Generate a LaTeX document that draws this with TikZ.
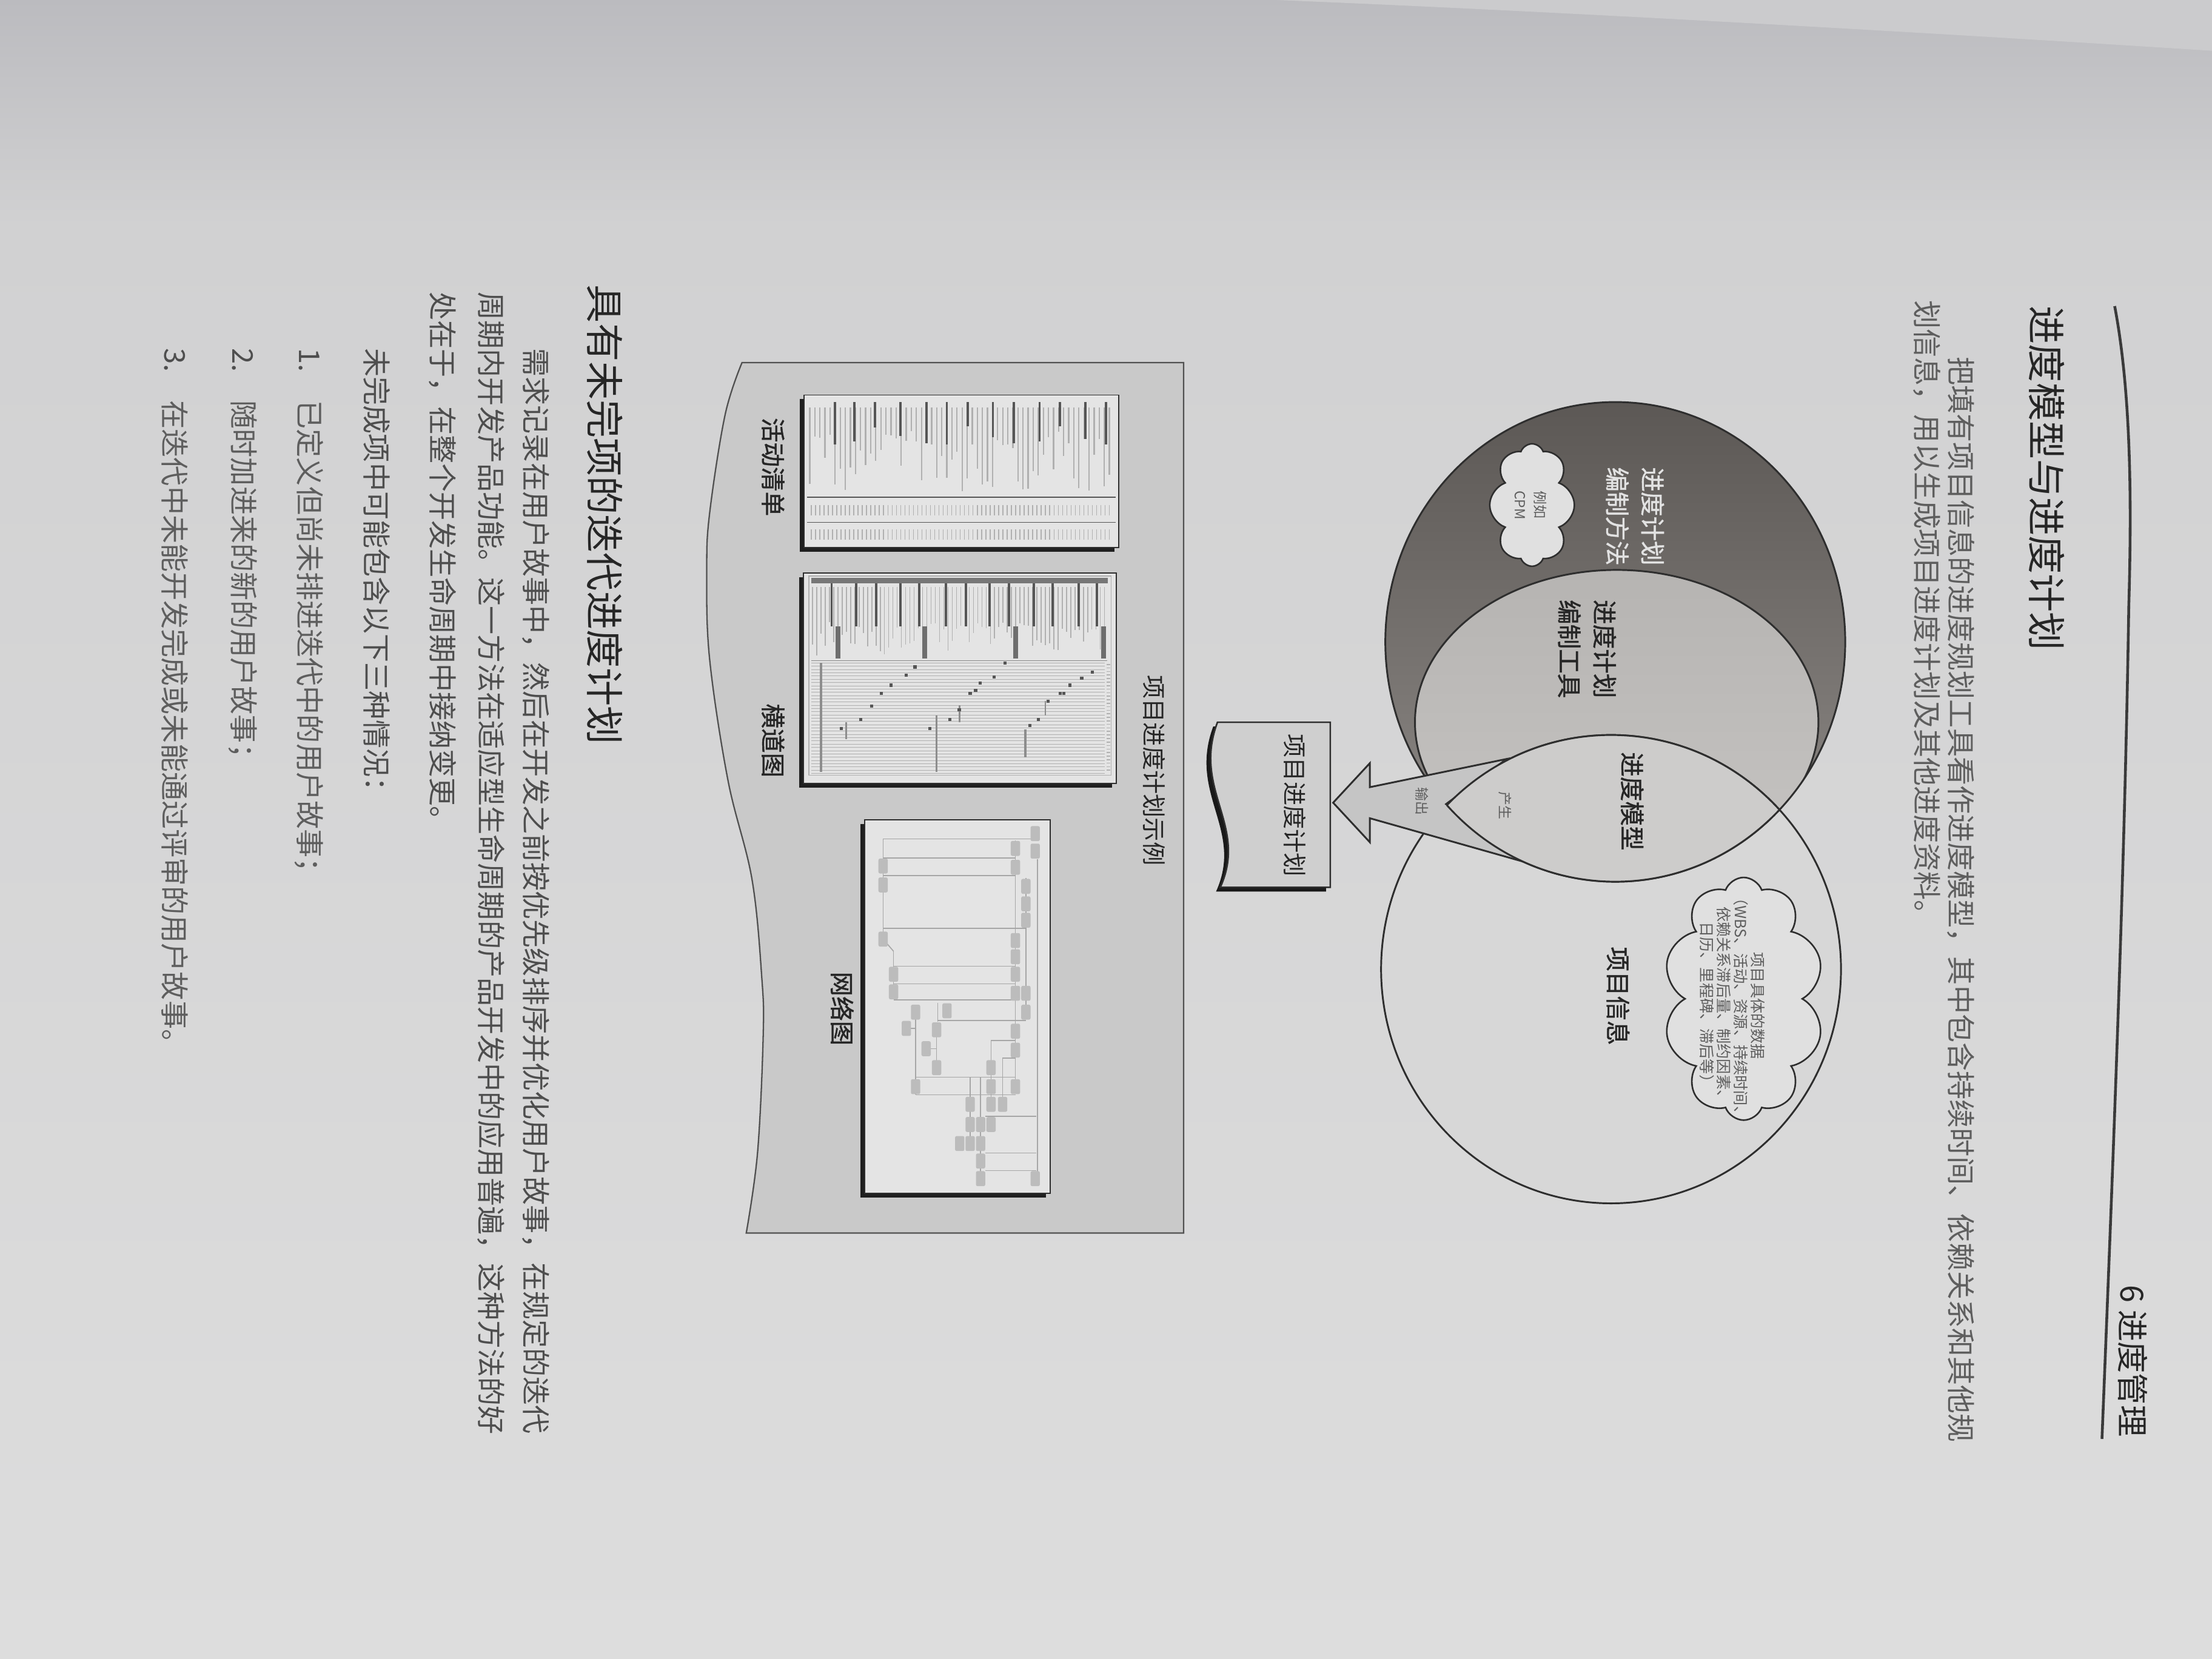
\documentclass[tikz,border=0pt]{standalone}
\usepackage{fontspec}
\setmainfont{Noto Sans CJK SC}
\newfontfamily\labelface[FakeBold=1.1]{Noto Sans CJK SC}
\usetikzlibrary{shapes.symbols}

\definecolor{bgtop}{HTML}{BBBBBF}
\definecolor{bgmid}{HTML}{D1D1D2}
\definecolor{bgbot}{HTML}{DDDDDD}
\definecolor{bglight}{HTML}{CBCBCD}
\definecolor{inkc}{HTML}{262626}
\definecolor{bodyc}{HTML}{4E4E4E}
\definecolor{softc}{HTML}{5E5E5E}
\definecolor{rulec}{HTML}{3A3A3A}
\definecolor{ringtop}{HTML}{5C5855}
\definecolor{ringbot}{HTML}{8E8A87}
\definecolor{tooltop}{HTML}{B6B4B2}
\definecolor{toolbot}{HTML}{C6C4C2}
\definecolor{infoc}{HTML}{D7D7D7}
\definecolor{lensc}{HTML}{CDCCCB}
\definecolor{arrowc}{HTML}{C5C5C5}
\definecolor{docc}{HTML}{CFCFCF}
\definecolor{panelc}{HTML}{C9C9C9}
\definecolor{paneledge}{HTML}{505050}
\definecolor{sheetc}{HTML}{E4E4E4}
\definecolor{linec}{HTML}{2E2E2E}
\definecolor{cloudc}{HTML}{E0E0E0}
\definecolor{ringtext}{HTML}{E2E2E2}
\definecolor{faint}{HTML}{B0B0B0}
\definecolor{heavy}{HTML}{555555}
\definecolor{netnode}{HTML}{BCBCBC}
\definecolor{netline}{HTML}{A6A6A6}

\begin{document}
\begin{tikzpicture}[x=0.025cm, y=-0.025cm,
  vline/.style={rotate=-90, anchor=west, inner sep=0pt, outer sep=0pt},
  vbox/.style={rotate=-90, anchor=center, inner sep=0pt, outer sep=0pt, align=center},
  headfont/.style={font=\fontsize{19.3}{23}\selectfont, text=inkc},
  bodyfont/.style={font=\fontsize{14.4}{17}\selectfont, text=bodyc},
  labelfont/.style={font=\labelface\fontsize{12.4}{17.8}\selectfont, text=inkc},
  tinyfont/.style={font=\fontsize{7}{10}\selectfont, text=softc},
  outline/.style={draw=linec, line width=0.9pt},
  sheet/.style={fill=sheetc, draw=linec, line width=0.5pt},
  sheetshadow/.style={fill=black!88},
  puff/.style={cloud, draw=linec, line width=0.8pt, fill=cloudc, inner sep=0pt, aspect=0.7, cloud puff arc=140},
  actlight/.style={draw=faint, line width=0.7pt},
  actdark/.style={draw=heavy, line width=1.1pt},
  gridline/.style={draw=faint, line width=0.25pt},
  gmark/.style={fill=heavy},
  netedge/.style={draw=netline, line width=0.5pt},
  netbox/.style={fill=netnode, rounded corners=0.8pt, minimum width=0.165cm, minimum height=0.265cm, inner sep=0pt}
]
\useasboundingbox (0,0) rectangle (1568,1176);

% ---------- page ----------
\shade[top color=bgtop, bottom color=bgmid] (0,0) rectangle (1568,160);
\shade[top color=bgmid, bottom color=bgbot] (0,160) rectangle (1568,1176);
\fill[bglight] (905,0) .. controls (1100,8) and (1350,22) .. (1568,36) -- (1568,0) -- cycle;

% ---------- running head ----------
\draw[draw=rulec, line width=1.4pt] (1499,217) .. controls (1511,280) and (1511,360) .. (1509,430)
  .. controls (1506,620) and (1498,820) .. (1490,1020);
\node[vline, font=\fontsize{16}{19}\selectfont, text=inkc] (chap) at (1512,911) {6 进度管理};

% ---------- section text ----------
\node[vline, headfont] (title) at (1451,217) {进度模型与进度计划};
\node[vline, bodyfont, text=softc] (introA) at (1390,253) {把填有项目信息的进度规划工具看作进度模型，其中包含持续时间、依赖关系和其他规};
\node[vline, bodyfont, text=softc] (introB) at (1366,213) {划信息，用以生成项目进度计划及其他进度资料。};

% ---------- schedule model diagram ----------
% methods circle
\shadedraw[top color=ringtop, bottom color=ringbot, draw=none] (1145,455) ellipse [x radius=163, y radius=170];
% tools circle inside it
\begin{scope}
  \clip (1145,455) ellipse [x radius=163, y radius=170];
  \shadedraw[top color=tooltop, bottom color=toolbot, outline] (1146,512) ellipse [x radius=143, y radius=108];
\end{scope}
% project information circle
\fill[infoc] (1142,687) ellipse [x radius=163, y radius=166];
\draw[outline] (1145,455) ellipse [x radius=163, y radius=170];
\draw[outline] (1142,687) ellipse [x radius=163, y radius=166];

% output arrow towards the schedule
\coordinate (tip) at (945,569);
\draw[fill=arrowc, outline] (tip) -- (971,541) -- (971,558) -- (1068,538) -- (1025,570)
  -- (1077,610) -- (971,580) -- (971,597) -- cycle;

% schedule model lens
\begin{scope}
  \clip (1145,455) ellipse [x radius=163, y radius=170];
  \fill[lensc] (1142,687) ellipse [x radius=163, y radius=166];
  \draw[outline] (1142,687) ellipse [x radius=163, y radius=166];
\end{scope}
\begin{scope}
  \clip (1142,687) ellipse [x radius=163, y radius=166];
  \draw[outline] (1145,455) ellipse [x radius=163, y radius=170];
\end{scope}

% clouds
\node[puff, cloud puffs=8, minimum width=1.5cm, minimum height=2.17cm] (cpmcloud) at (1086,358) {};
\node[puff, cloud puffs=10, minimum width=2.85cm, minimum height=4.3cm] (infocloud) at (1236,708) {};

% labels
\node[vbox, labelfont, text=ringtext] (method) at (1159,366) {进度计划\\编制方法};
\node[vbox, tinyfont] (cpm) at (1085,358) {例如\\CPM};
\node[vbox, labelfont] (tool) at (1125,460) {进度计划\\编制工具};
\node[vbox, labelfont] (model) at (1157,568) {进度模型};
\node[vbox, tinyfont] (produce) at (1067,571) {产生};
\node[vbox, tinyfont] (output) at (1008,568) {输出};
\node[vbox, labelfont] (info) at (1147,706) {项目信息};
\node[vbox, font=\fontsize{7.7}{8.6}\selectfont, text=softc] (infodata) at (1228,713)
  {项目具体的数据\\（WBS、活动、资源、持续时间、\\依赖关系滞后量、制约因素、\\日历、里程碑、滞后等）};

% project schedule document
\fill[black!90] (940,515) -- (860,515) .. controls (842,563) and (882,588) .. (862,632) -- (940,632) -- cycle;
\draw[fill=docc, draw=linec, line width=0.8pt] (943,512) -- (863,512) .. controls (845,560) and (885,585) .. (865,629) -- (943,629) -- cycle;
\node[vbox, font=\fontsize{12}{14}\selectfont, text=inkc] (plan) at (918,571) {项目进度计划};

% ---------- schedule examples panel ----------
\draw[fill=panelc, draw=paneledge, line width=0.7pt] (839,257) -- plot[smooth, tension=0.6] coordinates
  {(526,257) (514,294) (503,364) (501,405) (503,467) (516,553) (533,623) (540,693) (541,734) (537,817) (529,874)}
  -- (839,874) -- cycle;
\node[vbox, font=\fontsize{12}{14}\selectfont, text=inkc] (panelttl) at (818,546) {项目进度计划示例};
\node[vbox, labelfont] (actlbl) at (548,331) {活动清单};
\node[vbox, labelfont] (barlbl) at (548,525) {横道图};
\node[vbox, labelfont] (netlbl) at (597,715) {网络图};

% activity list sheet
\fill[sheetshadow] (567,283) rectangle (790,391);
\draw[sheet] (570,280) rectangle (793,388);
\pgfmathsetseed{7}
\foreach \i in {0,...,59} {
  \pgfmathsetmacro\xx{574+\i*3.6}
  \pgfmathsetmacro\yy{303+rnd*46}
  \draw[actlight] (\xx,288.7) -- (\xx,\yy);
}
\foreach \xx/\yy in {591.8/315, 605.6/313, 620.2/303, 638.3/309, 656.7/314, 671.2/315, 685.9/302,
                     703.9/310, 718.7/314, 736.9/313, 751.4/302, 769.4/311, 784.1/315} {
  \draw[actdark] (\xx,285.1) -- (\xx,\yy);
}
\draw[draw=heavy, line width=0.4pt] (572,352.5) -- (791,352.5);
\draw[draw=heavy, line width=0.4pt] (572,370.4) -- (791,370.4);
\foreach \i in {0,...,70} {
  \pgfmathsetmacro\xx{575+\i*3.02}
  \draw[draw=faint, line width=0.45pt] (\xx,358.2) -- (\xx,365.4);
  \draw[draw=faint, line width=0.45pt] (\xx,375.4) -- (\xx,382.6);
}

% bar chart sheet
\fill[sheetshadow] (566.5,409.2) rectangle (788.3,558.2);
\draw[sheet] (569.5,406.2) rectangle (791.3,555.2);
\draw[draw=faint, line width=0.4pt] (573.4,408.3) rectangle (787.5,549.5);
\fill[heavy!80] (575,409.7) rectangle (785.2,413.3);
\pgfmathsetseed{11}
\foreach \i in {0,...,69} {
  \pgfmathsetmacro\xx{576+\i*3.0}
  \pgfmathsetmacro\yy{440+rnd*26}
  \draw[draw=faint, line width=0.45pt] (\xx,416) -- (\xx,\yy);
}
\foreach \xx in {589.5,607,620.9,638.3,651.6,670.5,684.7,701.6,715.4,733,746,764.7,777.7} {
  \draw[draw=heavy, line width=1.2pt] (\xx,413.5) -- (\xx,444);
}
\foreach \xx in {594,655.5,720,782.3} {
  \fill[heavy!85] (\xx-1.8,444) rectangle (\xx+1.8,467);
}
\draw[draw=heavy!70, line width=0.3pt] (575,468.2) -- (785,468.2);
\foreach \k in {0,...,34} {
  \pgfmathsetmacro\yy{470+\k*2.3}
  \draw[gridline] (575,\yy) -- (783,\yy);
}
\draw[draw=faint!80!black, line width=1.1pt] (582,470) -- (582,547);
\draw[draw=faint!80!black, line width=1.1pt] (663.8,507) -- (663.8,547);
\draw[draw=faint!80!black, line width=1.1pt] (726.8,517) -- (726.8,537);
\draw[draw=faint!80!black, line width=0.9pt] (600,512) -- (600,524);
\draw[draw=faint!80!black, line width=0.9pt] (680,500) -- (680,512);
\draw[draw=faint!80!black, line width=0.9pt] (741,497) -- (741,507);
\foreach \xx/\yy in {596.4/516.5, 610.2/510, 617.9/500.7, 624.8/491.4, 631.7/485.7, 642.5/478.5, 648.6/472.8,
                     659.3/516.5, 673.2/510, 680/503, 687.7/491.4, 691.6/489.3, 694.7/484.2, 704.6/480, 712.3/470,
                     730/514.3, 736.1/510, 743/497, 751.4/491.4, 754/491.4, 758.4/485.7, 766.8/480.7, 774.5/476.4} {
  \fill[gmark] (\xx-1.1,\yy-1.1) rectangle (\xx+1.1,\yy+1.1);
}
\foreach \k in {0,...,30} {
  \pgfmathsetmacro\yy{471+\k*2.5}
  \draw[draw=faint, line width=0.5pt] (784.5,\yy) -- (787,\yy);
}

% network diagram sheet
\fill[sheetshadow] (609.9,584) rectangle (741.5,849);
\draw[sheet] (612.9,581) rectangle (744.5,846);
\foreach \a/\b/\c/\d in {626/594.7/733.8/594.7, 626/608.1/719.8/608.1, 626/620.6/719.8/620.6, 626/658/727.2/658,
    633.4/684.9/719.8/684.9, 633.4/697.4/719.8/697.4, 633.4/708.9/719.8/708.9, 664.7/723.3/727.2/723.3,
    649/763.6/719.8/763.6, 649/776/719.8/776, 702.5/737.7/719.8/737.7, 710.7/750.1/719.8/750.1,
    698.4/791.4/734.6/791.4, 698.4/817.3/734.6/817.3, 698.4/829.8/734.6/829.8,
    626/594.7/626/665.7, 719.8/595.7/719.8/772.2, 727.2/622.5/727.2/722.3, 735.4/609/735.4/835.5,
    649/712.7/649/776, 664.7/710.8/664.7/724.2, 663.9/730/663.9/756.8, 702.5/737.7/702.5/783,
    710.7/750.1/710.7/783, 687.7/763.6/687.7/810.6, 695.1/763.6/695.1/835.5, 633.4/674.3/633.4/703.1,
    626/665.7/633.4/674.3, 642.5/729/649/729, 656.5/743.4/663.9/743.4} {
  \draw[netedge] (\a,\b) -- (\c,\d);
}
\foreach \xx/\yy [count=\n] in {733.8/590.9, 733.8/603.3, 733.8/835.5,
    719.8/601.4, 719.8/614.8, 719.8/666.7, 719.8/678.2, 719.8/690.6, 719.8/704.1, 719.8/731, 719.8/744.4, 719.8/770.3,
    727.2/628.3, 727.2/640.7, 727.2/652.3, 727.2/704.1, 727.2/717.5,
    626/613.9, 626/627.3, 626/665.7, 633.4/690.6, 633.4/703.1, 649/717.5, 649/770.3,
    642.5/729, 671.3/716.5, 663.9/730, 663.9/756.8, 656.5/743.4,
    702.5/756.8, 702.5/770.3, 702.5/782.8, 710.7/782.8, 687.7/782.8, 687.7/797.1,
    695.1/797.1, 695.1/810.6, 695.1/823, 695.1/835.5, 702.5/797.1, 680.3/810.6, 687.7/810.6} {
  \node[netbox] (net\n) at (\xx,\yy) {};
}

% ---------- iterative schedule text ----------
\node[vline, headfont] (head2) at (429,202) {具有未完项的迭代进度计划};
\node[vline, bodyfont] (parA) at (380,247) {需求记录在用户故事中，然后在开发之前按优先级排序并优化用户故事，在规定的迭代};
\node[vline, bodyfont] (parB) at (348,207) {周期内开发产品功能。这一方法在适应型生命周期的产品开发中的应用普遍，这种方法的好};
\node[vline, bodyfont] (parC) at (314,207) {处在于，在整个开发生命周期中接纳变更。};
\node[vline, bodyfont] (parD) at (267,247) {未完成项中可能包含以下三种情况：};
\node[vline, bodyfont] (numA) at (219,247) {1.};
\node[vline, bodyfont, text=softc] (itemA) at (219,284) {已定义但尚未排进迭代中的用户故事；};
\node[vline, bodyfont] (numB) at (172,247) {2.};
\node[vline, bodyfont, text=softc] (itemB) at (172,284) {随时加进来的新的用户故事；};
\node[vline, bodyfont] (numC) at (124,247) {3.};
\node[vline, bodyfont, text=softc] (itemC) at (124,284) {在迭代中未能开发完成或未能通过评审的用户故事。};

\end{tikzpicture}
\end{document}
